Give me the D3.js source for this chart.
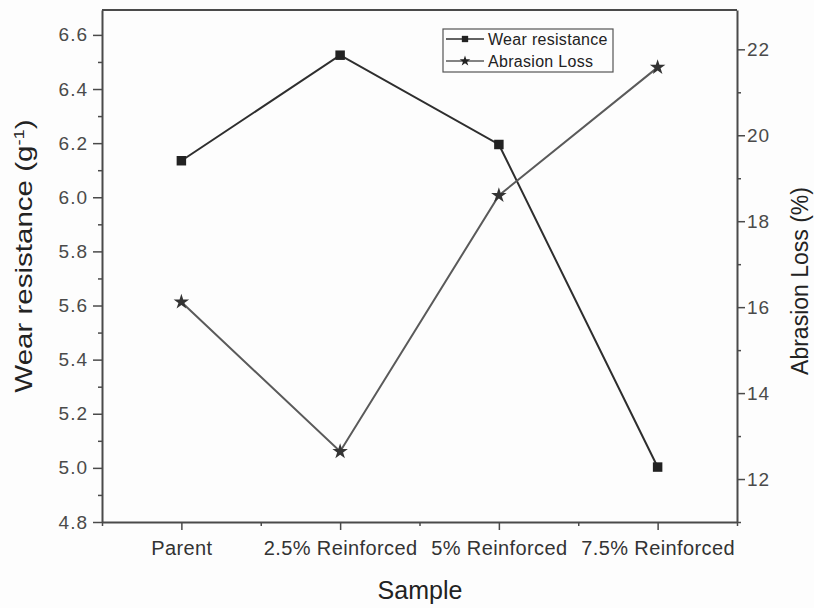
<!DOCTYPE html>
<html>
<head>
<meta charset="utf-8">
<script src="https://cdn.jsdelivr.net/npm/d3@7/dist/d3.min.js"></script>
<style>
  html, body { margin: 0; padding: 0; background: #fdfdfd; }
  svg { display: block; font-family: "Liberation Sans", Arial, sans-serif; }
</style>
</head>
<body>
<svg id="chart" width="814" height="608"></svg>
<script>
// Sample groups along the x axis
const samples = ["Parent", "2.5% Reinforced", "5% Reinforced", "7.5% Reinforced"];
// Wear resistance (g^-1), left axis
const wearResistance = [6.135, 6.525, 6.195, 5.003];
// Abrasion loss (%), right axis
const abrasionLoss = [16.12, 12.64, 18.6, 21.58];
// Tick values
const leftTicks = [4.8, 5.0, 5.2, 5.4, 5.6, 5.8, 6.0, 6.2, 6.4, 6.6];
const leftMinor = [4.9, 5.1, 5.3, 5.5, 5.7, 5.9, 6.1, 6.3, 6.5];
const rightTicks = [12, 14, 16, 18, 20, 22];
const rightMinor = [11, 13, 15, 17, 19, 21];

const svg = d3.select("#chart");
const m = { left: 102, right: 737, top: 10, bottom: 522 };

const x = d3.scaleLinear().domain([0.5, 4.5]).range([m.left, m.right]);
const yL = d3.scaleLinear().domain([4.8, 6.692]).range([m.bottom, m.top]);
const yR = d3.scaleLinear().domain([11, 22.915]).range([m.bottom, m.top]);

const axisColor = "#4a4a4a";
const textColor = "#4a4a4a";

// Frame top edge
svg.append("line")
  .attr("x1", m.left).attr("x2", m.right)
  .attr("y1", m.top).attr("y2", m.top)
  .attr("stroke", axisColor).attr("stroke-width", 2);

function styleAxis(g) {
  g.select(".domain").attr("stroke", axisColor).attr("stroke-width", 2);
  g.selectAll(".tick line").attr("stroke", axisColor).attr("stroke-width", 1.5);
  g.selectAll("text").attr("fill", textColor).attr("font-size", 19)
    .attr("letter-spacing", 1)
    .attr("font-family", "Liberation Sans, Arial, sans-serif");
}
function styleMinor(g) {
  g.select(".domain").remove();
  g.selectAll(".tick line").attr("stroke", axisColor).attr("stroke-width", 1.5);
}

// Left axis: minor then major
svg.append("g").attr("transform", `translate(${m.left},0)`)
  .call(d3.axisLeft(yL).tickValues(leftMinor).tickSize(4).tickFormat("").tickSizeOuter(0))
  .call(styleMinor);
svg.append("g").attr("transform", `translate(${m.left},0)`)
  .call(d3.axisLeft(yL).tickValues(leftTicks).tickSize(9).tickPadding(5).tickSizeOuter(0).tickFormat(d3.format(".1f")))
  .call(styleAxis);

// Right axis
svg.append("g").attr("transform", `translate(${m.right},0)`)
  .call(d3.axisRight(yR).tickValues(rightMinor).tickSize(4).tickFormat("").tickSizeOuter(0))
  .call(styleMinor);
svg.append("g").attr("transform", `translate(${m.right},0)`)
  .call(d3.axisRight(yR).tickValues(rightTicks).tickSize(8).tickPadding(2).tickSizeOuter(0))
  .call(styleAxis);

// Bottom axis
svg.append("g").attr("transform", `translate(0,${m.bottom})`)
  .call(d3.axisBottom(x).tickValues([0.5, 1.5, 2.5, 3.5, 4.5]).tickSize(4).tickFormat("").tickSizeOuter(0))
  .call(styleMinor);
svg.append("g").attr("transform", `translate(0,${m.bottom})`)
  .call(d3.axisBottom(x).tickValues([1, 2, 3, 4]).tickSize(8).tickPadding(11).tickSizeOuter(0)
    .tickFormat(d => samples[d - 1]))
  .call(styleAxis)
  .call(g => g.selectAll("text").attr("font-size", 20).attr("letter-spacing", 0.4).attr("fill", "#333"));

// Axis titles
const leftTitle = svg.append("text")
  .attr("transform", `translate(32,${256}) rotate(-90) scale(1.23,1)`)
  .attr("text-anchor", "middle").attr("font-size", 24).attr("fill", "#222");
leftTitle.append("tspan").text("Wear resistance (g");
leftTitle.append("tspan").attr("baseline-shift", "super").attr("font-size", 15).text("-1");
leftTitle.append("tspan").text(")");

svg.append("text")
  .attr("transform", `translate(808,${(m.top + m.bottom) / 2 + 15}) rotate(-90)`)
  .attr("text-anchor", "middle").attr("font-size", 23).attr("fill", "#222")
  .text("Abrasion Loss (%)");

svg.append("text")
  .attr("x", 420).attr("y", 599)
  .attr("text-anchor", "middle").attr("font-size", 25).attr("fill", "#222")
  .text("Sample");

// Series
const wearData = samples.map((s, i) => ({ i: i + 1, v: wearResistance[i] }));
const lossData = samples.map((s, i) => ({ i: i + 1, v: abrasionLoss[i] }));

svg.append("path").datum(wearData)
  .attr("fill", "none").attr("stroke", "#2e2e2e").attr("stroke-width", 2)
  .attr("d", d3.line().x(d => x(d.i)).y(d => yL(d.v)));
svg.append("path").datum(lossData)
  .attr("fill", "none").attr("stroke", "#5a5a5a").attr("stroke-width", 2)
  .attr("d", d3.line().x(d => x(d.i)).y(d => yR(d.v)));

const square = d3.symbol().type(d3.symbolSquare).size(90);
const star = d3.symbol().type(d3.symbolStar).size(75);

svg.append("g").selectAll("path").data(wearData).join("path")
  .attr("transform", d => `translate(${x(d.i)},${yL(d.v)})`)
  .attr("d", square).attr("fill", "#222");
svg.append("g").selectAll("path").data(lossData).join("path")
  .attr("transform", d => `translate(${x(d.i)},${yR(d.v)})`)
  .attr("d", star).attr("fill", "#333");

// Legend
const lg = svg.append("g");
lg.append("rect").attr("x", 443).attr("y", 29).attr("width", 170).attr("height", 43)
  .attr("fill", "none").attr("stroke", "#555").attr("stroke-width", 1.2);
const legendItems = [
  { label: "Wear resistance", sym: d3.symbol().type(d3.symbolSquare).size(40), y: 39, color: "#2e2e2e" },
  { label: "Abrasion Loss", sym: d3.symbol().type(d3.symbolStar).size(35), y: 61, color: "#5a5a5a" }
];
legendItems.forEach(it => {
  lg.append("line").attr("x1", 446).attr("x2", 484).attr("y1", it.y).attr("y2", it.y)
    .attr("stroke", it.color).attr("stroke-width", 1.5);
  lg.append("path").attr("transform", `translate(465,${it.y})`).attr("d", it.sym()).attr("fill", "#222");
  lg.append("text").attr("x", 488).attr("y", it.y + 5.5).attr("font-size", 16)
    .attr("letter-spacing", 0.3).attr("fill", "#222")
    .text(it.label);
});
</script>
</body>
</html>
